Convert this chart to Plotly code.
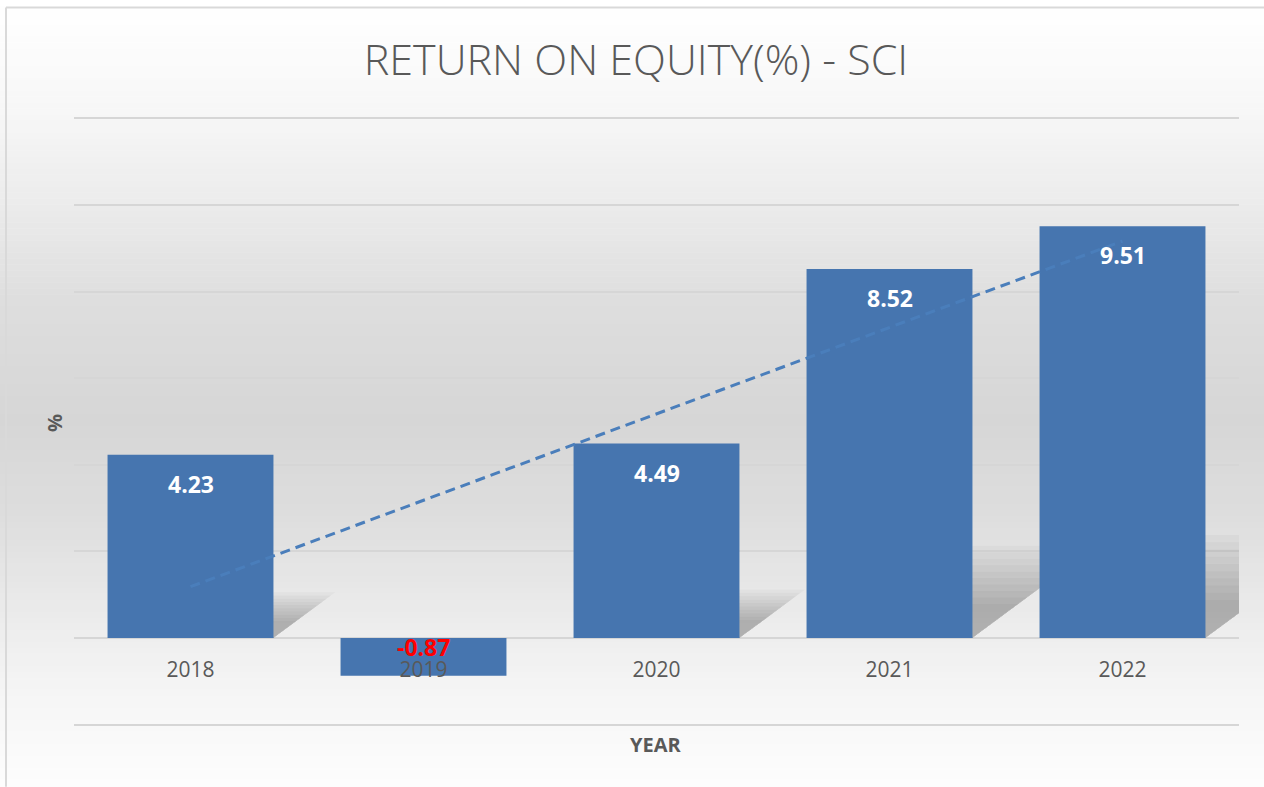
import numpy as np
import plotly.graph_objects as go

# ---- data ----
years = ["2018", "2019", "2020", "2021", "2022"]
roe = [4.23, -0.87, 4.49, 8.52, 9.51]
y_min, y_max, y_step = -2, 12, 2

title_text = "RETURN ON EQUITY(%) - SCI"
x_title = "YEAR"
y_title = "%"

# ---- geometry ----
W, H = 1264, 787
L, R = 74, 25
GRID_TOP, GRID_BOT = 118, 725          # pixel rows of the 12 and -2 gridlines
EXT = 0.03                              # small range padding so edge gridlines draw
ppu = (GRID_BOT - GRID_TOP) / (y_max - y_min)
T = GRID_TOP - EXT * ppu
B = (H - GRID_BOT) - EXT * ppu
pw, ph = W - L - R, H - T - B


def px2x(px):
    return (px - L) / pw


def py2y(py):
    return (H - B - py) / ph


idx = np.arange(len(years))
coef = np.polyfit(idx, roe, 1)
trend = np.polyval(coef, idx)

BAR_W = 0.712
GRAY = "#595959"
FONT = "Open Sans"

fig = go.Figure()
fig.add_trace(go.Bar(
    x=idx, y=roe, width=BAR_W,
    marker=dict(color="#4675af", line=dict(width=0)),
    hoverinfo="x+y", showlegend=False,
))
fig.add_trace(go.Scatter(
    x=idx, y=trend, mode="lines",
    line=dict(color="#4a7ebb", width=3, dash="10px,6px"),
    hoverinfo="skip", showlegend=False,
))

shapes = []
# background vertical gradient (style only)
stops = [(0, 255), (100, 248), (200, 236), (300, 222), (420, 214),
         (520, 222), (620, 236), (700, 246), (787, 253)]
sy = [s[0] for s in stops]
sc = [s[1] for s in stops]
step = 6
for py in range(0, H, step):
    c = int(round(np.interp(py + step / 2, sy, sc)))
    shapes.append(dict(
        type="rect", xref="paper", yref="paper", layer="below",
        x0=px2x(0), x1=px2x(W), y0=py2y(py + step + 0.5), y1=py2y(py),
        fillcolor=f"rgb({c},{c},{c})", line=dict(width=0),
    ))

# bar shadows (perspective style, layered for a soft edge)
ppc = pw / len(years)
half = BAR_W / 2
NL = 10
for i, v in enumerate(roe):
    if v <= 0:
        continue
    for k in range(NL):
        hk = 0.25 * v * (1 - 0.07 * k)
        s = hk * ppu * 1.35 / ppc
        path = (f"M {i - half},0 L {i + half},0 L {i + half + s},{hk} "
                f"L {i - half + s},{hk} Z")
        shapes.append(dict(
            type="path", xref="x", yref="y", layer="between", path=path,
            fillcolor="rgba(0,0,0,0.028)", line=dict(width=0),
        ))

# outer chart border (top and left visible)
shapes.append(dict(type="line", xref="paper", yref="paper", layer="above",
                   x0=px2x(6), x1=px2x(W), y0=py2y(7), y1=py2y(7),
                   line=dict(color="#d9d9d9", width=2)))
shapes.append(dict(type="line", xref="paper", yref="paper", layer="above",
                   x0=px2x(6), x1=px2x(6), y0=py2y(H), y1=py2y(7),
                   line=dict(color="#d9d9d9", width=2)))

annotations = []
for i, v in enumerate(roe):
    pos = v > 0
    annotations.append(dict(
        x=i, y=v if pos else 0, xref="x", yref="y",
        text=f"{v:.2f}", showarrow=False,
        xanchor="center", yanchor="middle", yshift=-29 if pos else -9,
        font=dict(family=FONT, size=23, color="white" if pos else "#ff0000",
                  weight="bold"),
    ))
annotations.append(dict(
    x=px2x(55), y=py2y(423), xref="paper", yref="paper", text=y_title,
    showarrow=False, textangle=-90, xanchor="center", yanchor="middle",
    font=dict(family=FONT, size=20, color=GRAY, weight="bold"),
))
annotations.append(dict(
    x=px2x(655), y=py2y(745), xref="paper", yref="paper", text=x_title,
    showarrow=False, xanchor="center", yanchor="middle",
    font=dict(family=FONT, size=20, color=GRAY, weight="bold"),
))

fig.update_layout(
    width=W, height=H,
    margin=dict(l=L, r=R, t=T, b=B, pad=0),
    paper_bgcolor="white", plot_bgcolor="rgba(0,0,0,0)",
    title=dict(text=title_text, x=636 / W, xanchor="center",
               y=1 - 60 / H, yanchor="middle", xref="container", yref="container",
               font=dict(family=FONT, size=43, color=GRAY, weight=300)),
    xaxis=dict(range=[-0.5, len(years) - 0.5], tickvals=idx, ticktext=years,
               showgrid=False, zeroline=False, showline=False,
               anchor="free", position=(0 - (y_min - EXT)) / (y_max - y_min + 2 * EXT),
               ticks="outside", ticklen=13, tickcolor="rgba(0,0,0,0)",
               tickfont=dict(family=FONT, size=21, color=GRAY)),
    yaxis=dict(range=[y_min - EXT, y_max + EXT], tick0=0, dtick=y_step,
               showticklabels=False, showgrid=True, gridcolor="#d6d6d6",
               gridwidth=1.5, zeroline=False, showline=False, ticks=""),
    shapes=shapes, annotations=annotations,
    bargap=0.288, showlegend=False,
)

fig.write_html("out.html",
               config={"displayModeBar": False},
               post_script="document.body.style.margin='0';"
                           "document.body.style.overflow='hidden';")
